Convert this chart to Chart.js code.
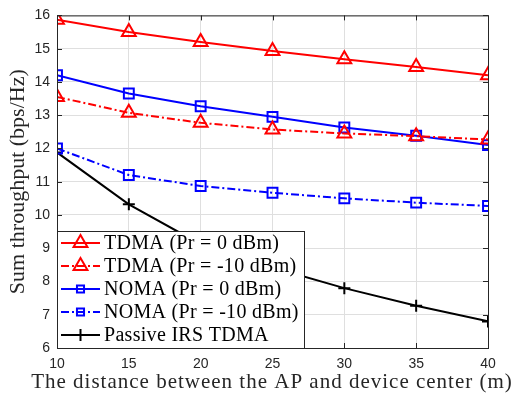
<!DOCTYPE html>
<html>
<head>
<meta charset="utf-8">
<script src="https://cdn.jsdelivr.net/npm/chart.js@4.4.1/dist/chart.umd.min.js"></script>
<style>
  html, body { margin: 0; padding: 0; background: #fff; }
  #wrap { width: 513px; height: 397px; }
</style>
</head>
<body>
<div id="wrap"><canvas id="lineChart" width="513" height="397"></canvas></div>
<script>
// distance (m)
const distance = [10, 15, 20, 25, 30, 35, 40];
const tdma0 = [15.87, 15.5, 15.2, 14.93, 14.68, 14.45, 14.2];
const tdma10 = [13.55, 13.07, 12.77, 12.57, 12.45, 12.37, 12.27];
const noma0 = [14.2, 13.65, 13.27, 12.95, 12.63, 12.38, 12.1];
const noma10 = [12.0, 11.2, 10.87, 10.67, 10.5, 10.37, 10.27];
const passive = [11.88, 10.32, 9.12, 8.42, 7.8, 7.27, 6.8];
const xTicks = [10, 15, 20, 25, 30, 35, 40];
const yTicks = [6, 7, 8, 9, 10, 11, 12, 13, 14, 15, 16];
const xTitle = 'The distance between the AP and device center (m)';
const yTitle = 'Sum throughput (bps/Hz)';

const dashDot = [8, 3, 2, 3];

function pts(vals) {
    return distance.map((d, i) => ({ x: d, y: vals[i] }));
}

const series = [
    { label: 'TDMA (Pr = 0 dBm)', data: tdma0, color: 'rgb(255,0,0)', dash: [], style: 'triangle', r: 8 },
    { label: 'TDMA (Pr = -10 dBm)', data: tdma10, color: 'rgb(255,0,0)', dash: dashDot, style: 'triangle', r: 8 },
    { label: 'NOMA (Pr = 0 dBm)', data: noma0, color: 'rgb(0,0,255)', dash: [], style: 'rect', r: 7 },
    { label: 'NOMA (Pr = -10 dBm)', data: noma10, color: 'rgb(0,0,255)', dash: dashDot, style: 'rect', r: 7 },
    { label: 'Passive IRS TDMA', data: passive, color: 'rgb(0,0,0)', dash: [], style: 'cross', r: 6 }
];

// axes box, inward ticks, x title and legend (MATLAB look)
const boxLegend = {
    id: 'boxLegend',
    afterDraw(chart) {
        const ctx = chart.ctx;
        const a = chart.chartArea;
        ctx.save();
        ctx.strokeStyle = '#262626';
        ctx.lineWidth = 1;
        ctx.strokeRect(a.left + 0.5, a.top + 0.5, a.right - a.left, a.bottom - a.top);
        const xs = chart.scales.x, ys = chart.scales.y;
        ctx.beginPath();
        xTicks.forEach(t => {
            const px = Math.round(xs.getPixelForValue(t)) + 0.5;
            ctx.moveTo(px, a.bottom); ctx.lineTo(px, a.bottom - 5);
            ctx.moveTo(px, a.top); ctx.lineTo(px, a.top + 5);
        });
        yTicks.forEach(t => {
            const py = Math.round(ys.getPixelForValue(t)) + 0.5;
            ctx.moveTo(a.left, py); ctx.lineTo(a.left + 5, py);
            ctx.moveTo(a.right, py); ctx.lineTo(a.right - 5, py);
        });
        ctx.stroke();

        // x axis title, a bit spaced out like the LaTeX font
        ctx.fillStyle = '#262626';
        ctx.font = '21px "Liberation Serif", serif';
        ctx.letterSpacing = '1px';
        ctx.textAlign = 'center';
        ctx.textBaseline = 'middle';
        ctx.fillText(xTitle, 272, 382);
        ctx.letterSpacing = '0px';
        ctx.textAlign = 'left';

        // legend box
        const bx = a.left + 0.5, by = 231.5, bw = 247, bh = a.bottom - 231;
        ctx.fillStyle = '#fff';
        ctx.fillRect(bx, by, bw, bh);
        ctx.strokeStyle = '#262626';
        ctx.strokeRect(bx, by, bw, bh);
        ctx.font = '20px "Liberation Serif", serif';
        ctx.letterSpacing = '0.3px';
        series.forEach((s, i) => {
            const y = 243 + i * 23;
            ctx.strokeStyle = s.color;
            ctx.lineWidth = 2;
            ctx.setLineDash(s.dash);
            ctx.beginPath();
            ctx.moveTo(61, y); ctx.lineTo(100, y);
            ctx.stroke();
            ctx.setLineDash([]);
            ctx.fillStyle = 'rgba(0,0,0,0)';
            Chart.helpers.drawPoint(ctx, { pointStyle: s.style, radius: s.style === 'rect' ? 5 : s.r, borderWidth: 2 }, 80.5, y);
            ctx.fillStyle = '#000';
            ctx.fillText(s.label, 104, y + 1);
        });
        ctx.restore();
    }
};

const datos = {
    datasets: series.map(s => ({
        label: s.label,
        data: pts(s.data),
        borderColor: s.color,
        backgroundColor: 'transparent',
        borderWidth: 2,
        borderDash: s.dash,
        pointStyle: s.style,
        pointRadius: s.r,
        pointBorderWidth: 2,
        pointBorderColor: s.color,
        pointBackgroundColor: 'transparent',
        tension: 0
    }))
};

const tickFont = { family: '"Liberation Sans", Arial, sans-serif', size: 14 };
const titleFont = { family: '"Liberation Serif", serif', size: 22 };

const config = {
    type: 'line',
    data: datos,
    options: {
        responsive: false,
        animation: false,
        layout: { padding: { top: 11, right: 25, left: 0, bottom: 0 } },
        plugins: {
            legend: { display: false },
            tooltip: { enabled: false }
        },
        scales: {
            x: {
                type: 'linear',
                min: 10, max: 40,
                afterBuildTicks: s => { s.ticks = xTicks.map(v => ({ value: v })); },
                afterFit: s => { s.height = 49; },
                grid: { color: '#dfdfdf', drawTicks: false },
                border: { display: false },
                ticks: { color: '#262626', font: tickFont, padding: 8, maxRotation: 0 }
            },
            y: {
                min: 6, max: 16,
                afterBuildTicks: s => { s.ticks = yTicks.map(v => ({ value: v })); },
                afterFit: s => { s.width = 57; },
                grid: { color: '#dfdfdf', drawTicks: false },
                border: { display: false },
                ticks: { color: '#262626', font: tickFont, padding: 7 },
                title: { display: true, text: yTitle, color: '#262626', font: titleFont, padding: { top: 5, bottom: 0 } }
            }
        }
    },
    plugins: [boxLegend]
};

const myChart = new Chart(document.getElementById('lineChart'), config);
</script>
</body>
</html>
